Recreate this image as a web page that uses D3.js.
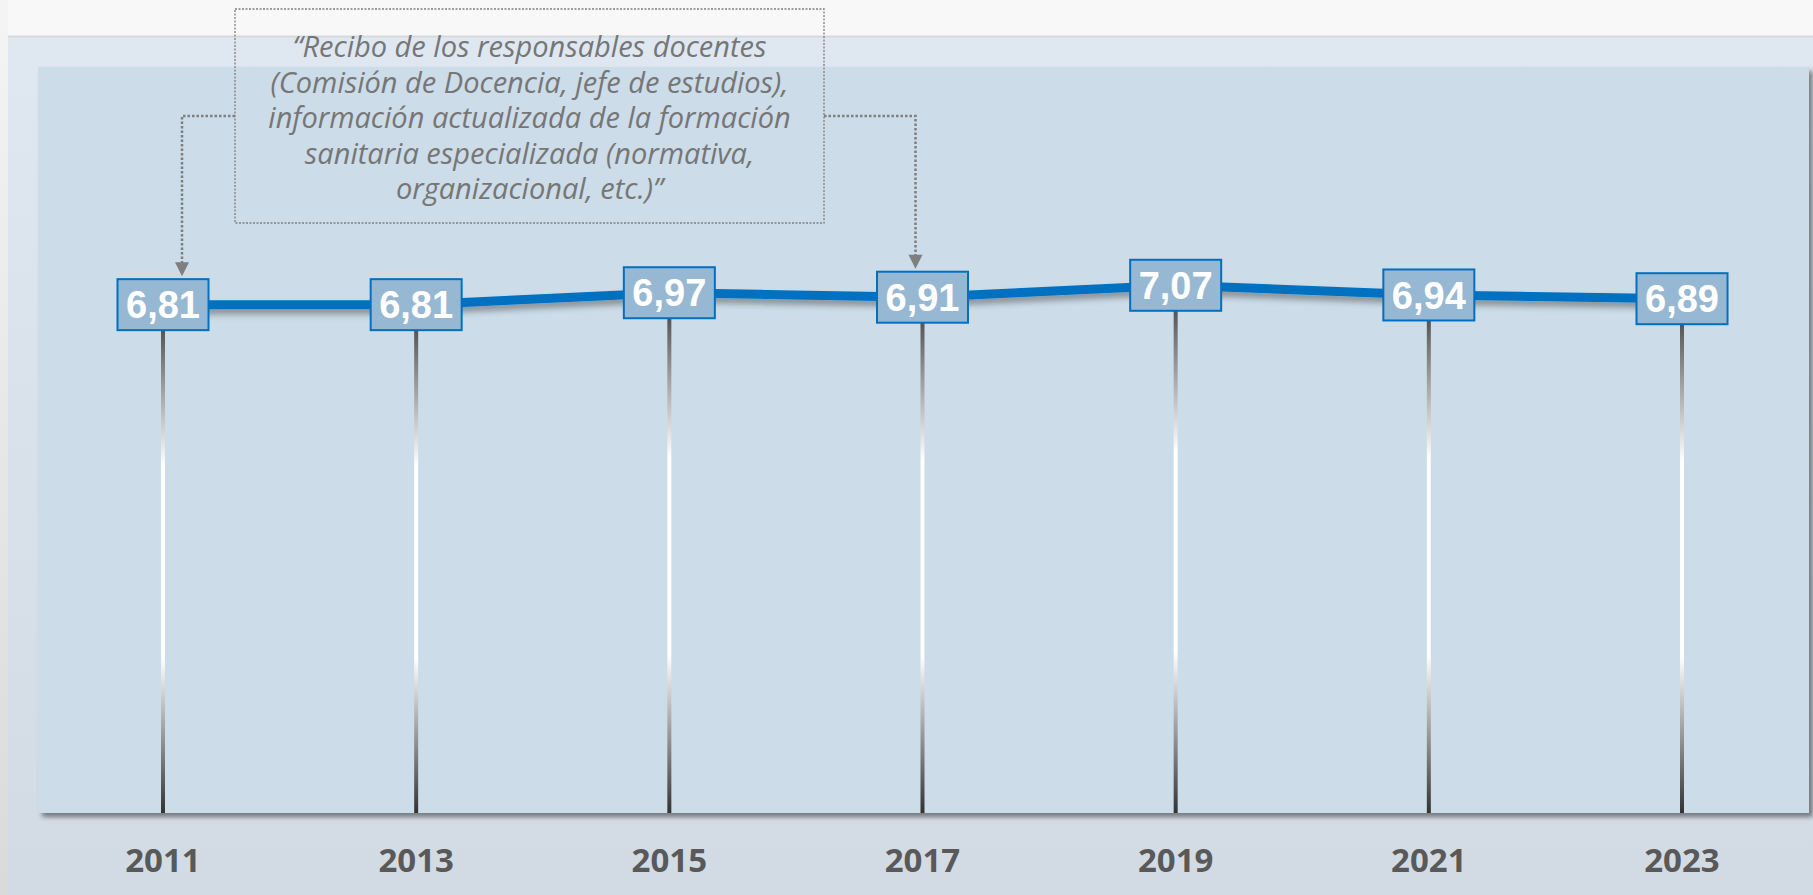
<!DOCTYPE html>
<html>
<head>
<meta charset="utf-8">
<script src="https://cdn.jsdelivr.net/npm/d3@7"></script>
<style>
  html, body { margin: 0; padding: 0; background: #f8f8f8; }
  svg { display: block; }
</style>
</head>
<body>
<div id="chart"></div>
<script>
// data
var years = [2011, 2013, 2015, 2017, 2019, 2021, 2023];
var values = [6.81, 6.81, 6.97, 6.91, 7.07, 6.94, 6.89];
var noteLines = [
  "\u201CRecibo de los responsables docentes",
  "(Comisi\u00F3n de Docencia, jefe de estudios),",
  "informaci\u00F3n actualizada de la formaci\u00F3n",
  "sanitaria especializada (normativa,",
  "organizacional, etc.)\u201D"
];

const width = 1813, height = 895;
const plot = {left: 38, top: 67, right: 1809, bottom: 813};

const svg = d3.select("#chart").append("svg")
  .attr("width", width)
  .attr("height", height);

const defs = svg.append("defs");

// outer panel gradient
const gPanel = defs.append("linearGradient").attr("id", "panelGrad")
  .attr("x1", 0).attr("y1", 0).attr("x2", 0).attr("y2", 1);
gPanel.append("stop").attr("offset", "0%").attr("stop-color", "#dfe8f1");
gPanel.append("stop").attr("offset", "100%").attr("stop-color", "#d2dbe4");

const gLeft = defs.append("linearGradient").attr("id", "leftGrad")
  .attr("x1", 0).attr("y1", 0).attr("x2", 0).attr("y2", 1);
gLeft.append("stop").attr("offset", "0%").attr("stop-color", "#f4f4f4");
gLeft.append("stop").attr("offset", "100%").attr("stop-color", "#dadada");

// drop line gradient (dark - white - dark)
const gDrop = defs.append("linearGradient").attr("id", "dropGrad")
  .attr("gradientUnits", "objectBoundingBox")
  .attr("x1", 0).attr("y1", 0).attr("x2", 0).attr("y2", 1);
gDrop.append("stop").attr("offset", "0%").attr("stop-color", "#555555");
gDrop.append("stop").attr("offset", "28%").attr("stop-color", "#ffffff");
gDrop.append("stop").attr("offset", "68%").attr("stop-color", "#ffffff");
gDrop.append("stop").attr("offset", "100%").attr("stop-color", "#333333");

// shadows
const fPlot = defs.append("filter").attr("id", "plotShadow")
  .attr("x", "-2%").attr("y", "-2%").attr("width", "105%").attr("height", "110%");
fPlot.append("feDropShadow").attr("dx", 4).attr("dy", 4).attr("stdDeviation", 2.5)
  .attr("flood-color", "#000").attr("flood-opacity", 0.45);

const fLine = defs.append("filter").attr("id", "lineShadow")
  .attr("x", "-5%").attr("y", "-50%").attr("width", "110%").attr("height", "300%");
fLine.append("feDropShadow").attr("dx", 0).attr("dy", 5).attr("stdDeviation", 3)
  .attr("flood-color", "#000").attr("flood-opacity", 0.35);

// backgrounds
svg.append("rect").attr("x", 0).attr("y", 0).attr("width", 8).attr("height", height)
  .attr("fill", "url(#leftGrad)");
svg.append("rect").attr("x", 8).attr("y", 36).attr("width", width - 8).attr("height", height - 36)
  .attr("fill", "url(#panelGrad)");
svg.append("line").attr("x1", 8).attr("x2", width).attr("y1", 36.5).attr("y2", 36.5)
  .attr("stroke", "#d6d9dc").attr("stroke-width", 2);

svg.append("rect")
  .attr("x", plot.left).attr("y", plot.top)
  .attr("width", plot.right - plot.left).attr("height", plot.bottom - plot.top)
  .attr("fill", "#ccdce8")
  .attr("filter", "url(#plotShadow)");

// scales
const x = d3.scaleLinear().domain([2011, 2023]).range([163, 1682]);
const y = d3.scaleLinear().domain([0, 10]).range([plot.bottom - 1, plot.top]);

const boxW = 91, boxH = 51;
const pts = years.map((yr, i) => ({year: yr, value: values[i]}));

// vertical drop lines
svg.selectAll("rect.drop")
  .data(pts)
  .join("rect")
  .attr("class", "drop")
  .attr("x", d => x(d.year) - 2)
  .attr("y", d => y(d.value) + boxH / 2)
  .attr("width", 4)
  .attr("height", d => plot.bottom - (y(d.value) + boxH / 2))
  .attr("fill", "url(#dropGrad)");

// main line
const line = d3.line().x(d => x(d.year)).y(d => y(d.value));
svg.append("path")
  .datum(pts)
  .attr("d", line)
  .attr("fill", "none")
  .attr("stroke", "#0070c0")
  .attr("stroke-width", 9)
  .attr("filter", "url(#lineShadow)");

// value boxes
const lab = svg.selectAll("g.lab")
  .data(pts)
  .join("g")
  .attr("class", "lab")
  .attr("transform", d => `translate(${x(d.year)},${y(d.value)})`);

lab.append("rect")
  .attr("x", -boxW / 2).attr("y", -boxH / 2)
  .attr("width", boxW).attr("height", boxH)
  .attr("fill", "#97b8d3")
  .attr("stroke", "#0070c0")
  .attr("stroke-width", 2);

lab.append("text")
  .attr("text-anchor", "middle")
  .attr("dy", "0.36em")
  .style("font-family", "'Liberation Sans', Arial, sans-serif")
  .style("font-weight", "bold")
  .style("font-size", "38px")
  .attr("fill", "#ffffff")
  .text(d => d3.format(".2f")(d.value).replace(".", ","));

// year axis labels
svg.selectAll("text.year")
  .data(years)
  .join("text")
  .attr("class", "year")
  .attr("x", d => x(d))
  .attr("y", 872)
  .attr("text-anchor", "middle")
  .style("font-family", "'Open Sans', sans-serif")
  .style("font-weight", "bold")
  .style("font-size", "33px")
  .attr("fill", "#595959")
  .text(d => d);

// annotation box + connectors
const note = {x0: 235, x1: 824, y0: 9, y1: 223, ly: 116};
svg.append("rect")
  .attr("x", note.x0).attr("y", note.y0)
  .attr("width", note.x1 - note.x0).attr("height", note.y1 - note.y0)
  .attr("fill", "none")
  .attr("stroke", "#7f7f7f")
  .attr("stroke-width", 1.3)
  .attr("stroke-dasharray", "2,1.5");

const leftX = x(2011) + 19, rightX = x(2017) - 7;
[[note.x0, leftX, y(values[0])], [note.x1, rightX, y(values[3])]].forEach(function (c) {
  const tip = c[2] - boxH / 2 - 3;
  svg.append("path")
    .attr("d", `M${c[0]},${note.ly}H${c[1]}V${tip - 12}`)
    .attr("fill", "none")
    .attr("stroke", "#7f7f7f")
    .attr("stroke-width", 2.5)
    .attr("stroke-dasharray", "2.5,2");
  svg.append("path")
    .attr("d", `M${c[1] - 7},${tip - 14}L${c[1] + 7},${tip - 14}L${c[1]},${tip}Z`)
    .attr("fill", "#7f7f7f");
});

svg.append("g").selectAll("text")
  .data(noteLines)
  .join("text")
  .attr("x", (note.x0 + note.x1) / 2)
  .attr("y", (d, i) => 47 + i * 35.5)
  .attr("dy", "0.35em")
  .attr("text-anchor", "middle")
  .style("font-family", "'Open Sans', sans-serif")
  .style("font-style", "italic")
  .style("font-size", "29px")
  .attr("fill", "#767676")
  .text(d => d);
</script>
</body>
</html>
